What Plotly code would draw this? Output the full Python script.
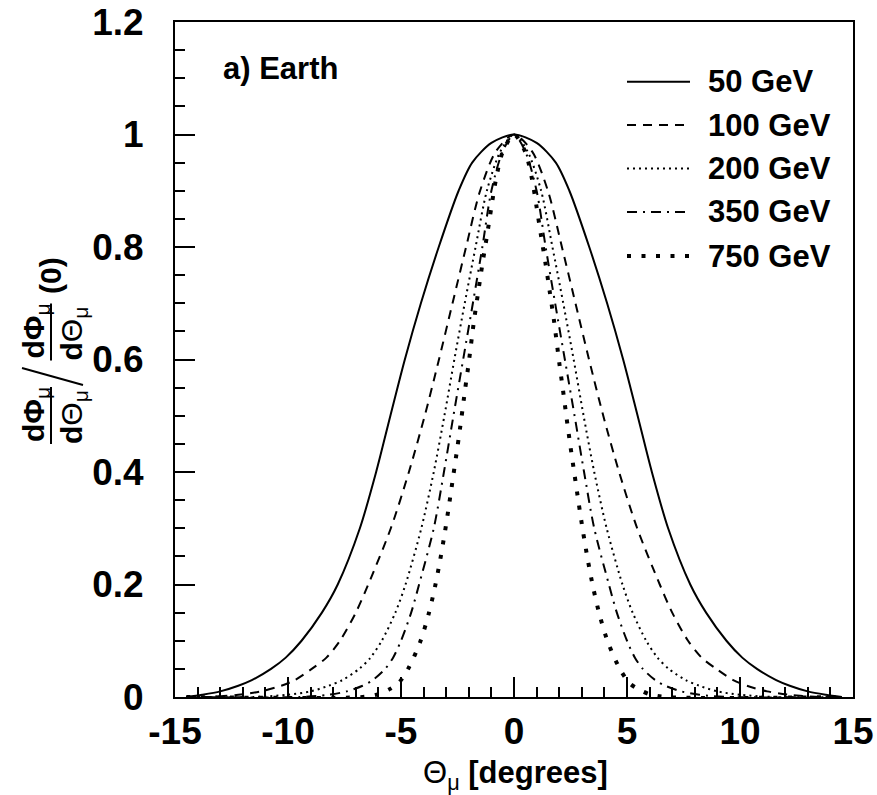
import plotly.graph_objects as go

# ---- data (theta in degrees, normalised flux) ----
x_50 = [-14.5, -13.8, -13.0, -12.2, -11.6, -10.75, -10.1, -9.4, -8.5, -7.8, -6.82, -6.1, -5.47, -4.83, -4.12, -3.33,
        -2.45, -1.85, -1.0, 0.0,
        1.0, 1.85, 2.45, 3.33, 4.12, 4.83, 5.47, 6.1, 6.82, 7.8, 8.5, 9.4, 10.1, 10.75, 11.6, 12.2, 13.0, 13.8, 14.5]
y_50 = [0.0, 0.004, 0.01, 0.02, 0.03, 0.05, 0.07, 0.1, 0.15, 0.2, 0.3, 0.4, 0.5, 0.6, 0.7, 0.8,
        0.9, 0.95, 0.985, 1.0,
        0.985, 0.95, 0.9, 0.8, 0.7, 0.6, 0.5, 0.4, 0.3, 0.2, 0.15, 0.1, 0.07, 0.05, 0.03, 0.02, 0.01, 0.004, 0.0]

x_100 = [-14.5, -13.5, -12.2, -11.2, -10.3, -9.7, -8.95, -8.3, -7.7, -7.0, -6.45, -5.45, -4.65, -3.95, -3.32, -2.72,
         -2.12, -1.5, -0.8, 0.0,
         0.8, 1.5, 2.12, 2.72, 3.32, 3.95, 4.65, 5.45, 6.45, 7.0, 7.7, 8.3, 8.95, 9.7, 10.3, 11.2, 12.2, 13.5, 14.5]
y_100 = [0.0, 0.0, 0.004, 0.01, 0.02, 0.03, 0.05, 0.07, 0.1, 0.15, 0.2, 0.3, 0.4, 0.5, 0.6, 0.7,
         0.8, 0.9, 0.97, 1.0,
         0.97, 0.9, 0.8, 0.7, 0.6, 0.5, 0.4, 0.3, 0.2, 0.15, 0.1, 0.07, 0.05, 0.03, 0.02, 0.01, 0.004, 0.0, 0.0]

x_200 = [-14.5, -11.5, -10.0, -9.0, -8.2, -7.6, -6.85, -6.35, -5.85, -5.25, -4.8, -4.1, -3.55, -3.08, -2.64, -2.18,
         -1.7, -1.2, -0.6, 0.0,
         0.6, 1.2, 1.7, 2.18, 2.64, 3.08, 3.55, 4.1, 4.8, 5.25, 5.85, 6.35, 6.85, 7.6, 8.2, 9.0, 10.0, 11.5, 14.5]
y_200 = [0.0, 0.0, 0.004, 0.01, 0.02, 0.03, 0.05, 0.07, 0.1, 0.15, 0.2, 0.3, 0.4, 0.5, 0.6, 0.7,
         0.8, 0.9, 0.97, 1.0,
         0.97, 0.9, 0.8, 0.7, 0.6, 0.5, 0.4, 0.3, 0.2, 0.15, 0.1, 0.07, 0.05, 0.03, 0.02, 0.01, 0.004, 0.0, 0.0]

x_350 = [-14.5, -9.5, -8.2, -7.4, -6.7, -6.25, -5.7, -5.35, -5.0, -4.55, -4.2, -3.55, -3.1, -2.68, -2.25, -1.82,
         -1.4, -1.0, -0.5, 0.0,
         0.5, 1.0, 1.4, 1.82, 2.25, 2.68, 3.1, 3.55, 4.2, 4.55, 5.0, 5.35, 5.7, 6.25, 6.7, 7.4, 8.2, 9.5, 14.5]
y_350 = [0.0, 0.0, 0.004, 0.01, 0.02, 0.03, 0.05, 0.07, 0.1, 0.15, 0.2, 0.3, 0.4, 0.5, 0.6, 0.7,
         0.8, 0.9, 0.97, 1.0,
         0.97, 0.9, 0.8, 0.7, 0.6, 0.5, 0.4, 0.3, 0.2, 0.15, 0.1, 0.07, 0.05, 0.03, 0.02, 0.01, 0.004, 0.0, 0.0]

x_750 = [-14.5, -6.7, -6.0, -5.5, -5.1, -4.67, -4.15, -3.78, -3.5, -3.26, -3.05, -2.86, -2.68, -2.5, -2.33, -2.17,
         -2.0, -1.77, -1.58, -1.39, -1.2, -1.0, -0.8, -0.5, 0.0,
         0.5, 0.8, 1.0, 1.2, 1.39, 1.58, 1.77, 2.0, 2.17, 2.33, 2.5, 2.68, 2.86, 3.05, 3.26, 3.5, 3.78, 4.15,
         4.67, 5.1, 5.5, 6.0, 6.7, 14.5]
y_750 = [0.0, 0.0, 0.005, 0.014, 0.025, 0.051, 0.098, 0.147, 0.195, 0.245, 0.295, 0.345, 0.395, 0.445, 0.495, 0.545,
         0.595, 0.669, 0.721, 0.772, 0.819, 0.871, 0.92, 0.969, 1.0,
         0.969, 0.92, 0.871, 0.819, 0.772, 0.721, 0.669, 0.595, 0.545, 0.495, 0.445, 0.395, 0.345, 0.295, 0.245,
         0.195, 0.147, 0.098, 0.051, 0.025, 0.014, 0.005, 0.0, 0.0]

series_names = ["50 GeV", "100 GeV", "200 GeV", "350 GeV", "750 GeV"]
series_x = [x_50, x_100, x_200, x_350, x_750]
series_y = [y_50, y_100, y_200, y_350, y_750]

x_tick_vals = [-15, -10, -5, 0, 5, 10, 15]
x_tick_text = ["-15", "-10", "-5", "0", "5", "10", "15"]
y_tick_vals = [0, 0.2, 0.4, 0.6, 0.8, 1.0, 1.2]
y_tick_text = ["0", "0.2", "0.4", "0.6", "0.8", "1", "1.2"]

# ---- styles ----
styles = [
    dict(width=2, dash="solid"),
    dict(width=2, dash="9px,7px"),
    dict(width=2, dash="2px,4px"),
    dict(width=2, dash="10px,6px,2px,6px"),
    dict(width=4, dash="4px,10.5px"),
]

FONT = "Liberation Sans, Arial, Helvetica, sans-serif"
W, H = 877, 795
L, R, T, B = 175, 853, 22, 697


def px(xp):
    return (xp - L) / (R - L)


def py(yp):
    return (B - yp) / (B - T)


fig = go.Figure()
for name, xs, ys, st in zip(series_names, series_x, series_y, styles):
    fig.add_trace(go.Scatter(x=xs, y=ys, mode="lines", name=name, showlegend=False,
                             line=dict(color="black", width=st["width"], dash=st["dash"],
                                       shape="spline", smoothing=0.8)))

axis_common = dict(showgrid=False, zeroline=False, showline=True, linecolor="black", linewidth=2,
                   mirror=True, ticks="inside", tickcolor="black", tickwidth=1.5, ticklen=20,
                   tickfont=dict(family=FONT, size=37, color="black"))

fig.update_xaxes(range=[-15, 15], tickmode="array", tickvals=x_tick_vals, ticktext=[f"<b>{t}</b>" for t in x_tick_text],
                 minor=dict(ticks="inside", ticklen=10, tickwidth=1.5, tickcolor="black", dtick=1, tick0=0),
                 ticklabelstandoff=1, **axis_common)
fig.update_yaxes(range=[0, 1.2], tickmode="array", tickvals=y_tick_vals, ticktext=[f"<b>{t}</b>" for t in y_tick_text],
                 minor=dict(ticks="inside", ticklen=10, tickwidth=1.5, tickcolor="black", dtick=0.05, tick0=0),
                 ticklabelstandoff=22, **axis_common)

annotations = []
shapes = []

# legend (drawn manually to match the long ROOT-style samples)
leg_rows = [81.7, 125.0, 168.5, 212.0, 256.0]
for name, st, yr in zip(series_names, styles, leg_rows):
    shapes.append(dict(type="line", xref="paper", yref="paper", x0=px(627), x1=px(690), y0=py(yr), y1=py(yr),
                       line=dict(color="black", width=st["width"], dash=st["dash"])))
    annotations.append(dict(xref="paper", yref="paper", x=px(706), y=py(yr), xanchor="left", yanchor="middle",
                            text=f"<b>{name}</b>", showarrow=False,
                            font=dict(family=FONT, size=31, color="black")))

# panel label
annotations.append(dict(xref="paper", yref="paper", x=px(221), y=py(68), xanchor="left", yanchor="middle",
                        text="<b>a) Earth</b>", showarrow=False, font=dict(family=FONT, size=31, color="black")))

# x axis title
annotations.append(dict(xref="paper", yref="paper", x=px(515), y=py(775), xanchor="center", yanchor="middle",
                        text="Θ<sub>μ</sub> <b>[degrees]</b>", showarrow=False,
                        font=dict(family=FONT, size=31, color="black")))

# y axis title: (dPhi/dTheta) / (dPhi/dTheta)(0), built from rotated pieces
ytitle_font = dict(family=FONT, size=30, color="black")
for yc in (331.5, 415.0):
    annotations.append(dict(xref="paper", yref="paper", x=px(35), y=py(yc), xanchor="center", yanchor="middle",
                            text="<b>dΦ</b><sub>μ</sub>", textangle=-90, showarrow=False, font=ytitle_font))
    annotations.append(dict(xref="paper", yref="paper", x=px(73), y=py(yc + 2), xanchor="center", yanchor="middle",
                            text="<b>d</b>Θ<sub>μ</sub>", textangle=-90, showarrow=False, font=ytitle_font))
    shapes.append(dict(type="line", xref="paper", yref="paper", x0=px(51), x1=px(51), y0=py(yc - 28), y1=py(yc + 29),
                       line=dict(color="black", width=2)))
shapes.append(dict(type="line", xref="paper", yref="paper", x0=px(22), y0=py(368), x1=px(83), y1=py(385),
                   line=dict(color="black", width=2)))
annotations.append(dict(xref="paper", yref="paper", x=px(50), y=py(276), xanchor="center", yanchor="middle",
                        text="<b>(0)</b>", textangle=-90, showarrow=False, font=ytitle_font))

fig.update_layout(width=W, height=H, margin=dict(l=L, r=W - R, t=T, b=H - B, autoexpand=False),
                  paper_bgcolor="white", plot_bgcolor="white", showlegend=False,
                  annotations=annotations, shapes=shapes,
                  font=dict(family=FONT, color="black"))

fig.write_html("out.html")
